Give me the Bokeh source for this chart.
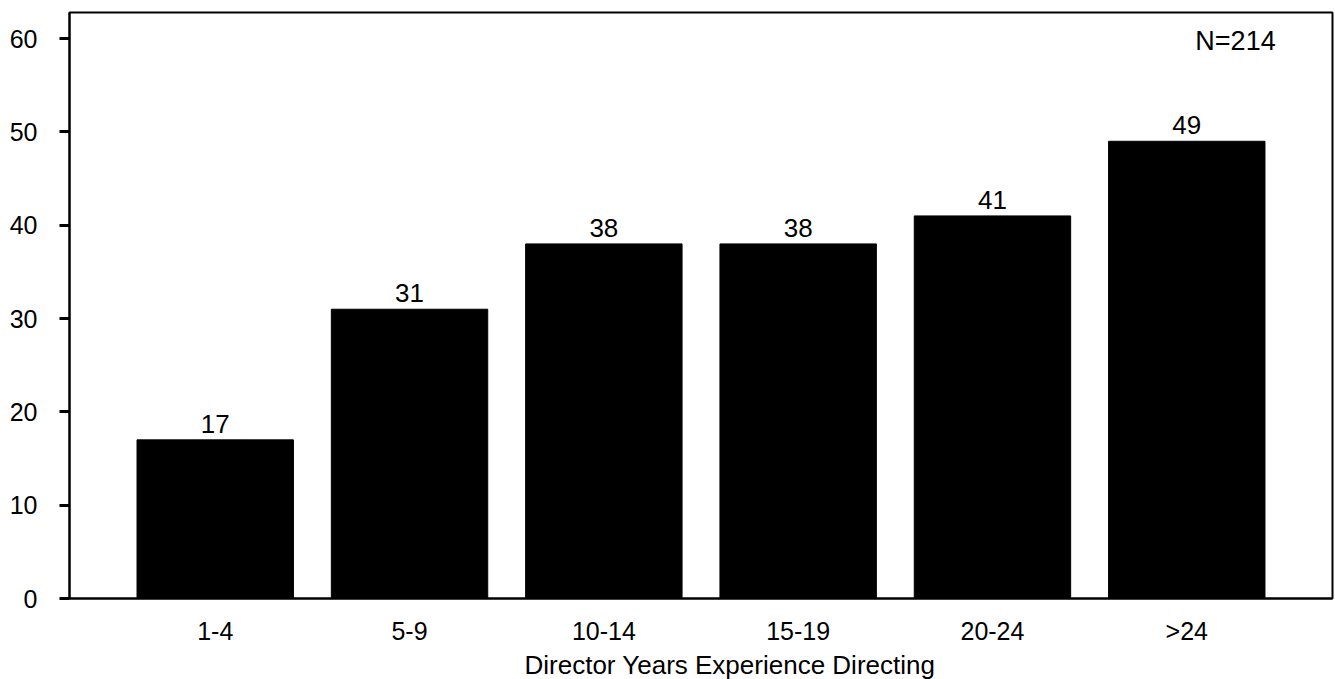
from bokeh.plotting import figure
from bokeh.models import FactorRange, Range1d, ColumnDataSource, LabelSet, Label, FixedTicker, Title
from bokeh.core.properties import value
from bokeh.embed import file_html
from bokeh.resources import INLINE

categories = ["1-4", "5-9", "10-14", "15-19", "20-24", ">24"]
values = [17, 31, 38, 38, 41, 49]
labels = [str(v) for v in values]
y_ticks = [0, 10, 20, 30, 40, 50, 60]
x_title = "Director Years Experience Directing"
note = "N=214"

FONT = "Liberation Sans"

src = ColumnDataSource(dict(cat=categories, val=values, lab=labels))

xr = FactorRange(*categories, range_padding=0.5 / 6, range_padding_units="percent")

p = figure(x_range=xr,
           y_range=Range1d(0, 62.8),
           width=1334, height=679, output_backend="svg", toolbar_location=None,
           min_border_left=69, min_border_top=12, min_border_right=2, min_border_bottom=80)

p.vbar(x="cat", top="val", width=0.805, source=src, fill_color="black", line_color="black")

p.add_layout(LabelSet(x="cat", y="val", text="lab", source=src, text_align="center",
                      text_baseline="alphabetic", y_offset=7, text_font=value(FONT),
                      text_font_size=value("26px"), text_color="black"))

# screen units are relative to the plot frame (from its bottom-left corner)
p.add_layout(Label(x=1166, y=558, x_units="screen", y_units="screen", text=note,
                   text_font=FONT, text_font_size="27px", text_color="black",
                   text_align="center", text_baseline="alphabetic"))

p.xgrid.visible = False
p.ygrid.visible = False
p.outline_line_color = "black"
p.outline_line_width = 2

p.yaxis.ticker = FixedTicker(ticks=y_ticks)
p.yaxis.axis_line_color = "black"
p.yaxis.axis_line_width = 2
p.yaxis.major_tick_out = 10
p.yaxis.major_tick_in = 0
p.yaxis.major_tick_line_width = 3
p.yaxis.minor_tick_line_color = None
p.yaxis.major_label_text_font = FONT
p.yaxis.major_label_text_font_size = "25px"
p.yaxis.major_label_text_color = "black"
p.yaxis.major_label_standoff = 22

p.xaxis.axis_line_color = "black"
p.xaxis.axis_line_width = 2
p.xaxis.major_tick_line_color = None
p.xaxis.minor_tick_line_color = None
p.xaxis.major_label_text_font = FONT
p.xaxis.major_label_text_font_size = "25px"
p.xaxis.major_label_text_color = "black"
p.xaxis.major_label_standoff = 12

# x-axis title, placed slightly right of centre as in the reference
p.add_layout(Title(text=x_title, align="left", offset=455, standoff=0,
                   text_font=FONT, text_font_size="26px", text_font_style="normal",
                   text_color="black"), "below")

open("out.html", "w").write(file_html(p, INLINE))
